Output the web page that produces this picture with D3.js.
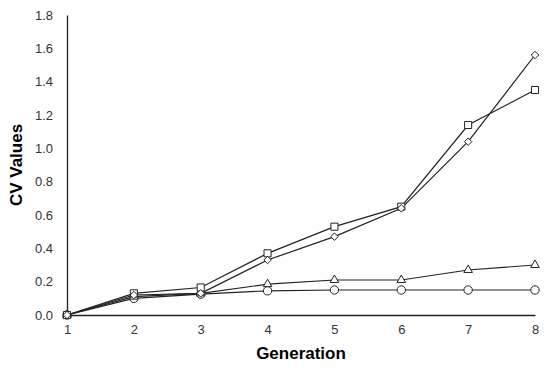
<!DOCTYPE html>
<html>
<head>
<meta charset="utf-8">
<script src="https://cdn.jsdelivr.net/npm/d3@7.9.0/dist/d3.min.js"></script>
<style>
  body { margin: 0; background: #fff; }
  svg { font-family: "Liberation Sans", Arial, sans-serif; }
</style>
</head>
<body>
<svg width="550" height="368"></svg>
<script>
// chart data
const generations = [1, 2, 3, 4, 5, 6, 7, 8];
const diamondValues = [0, 0.12, 0.13, 0.33, 0.47, 0.64, 1.04, 1.56];
const squareValues = [0, 0.13, 0.165, 0.37, 0.53, 0.65, 1.14, 1.35];
const triangleValues = [0, 0.11, 0.13, 0.185, 0.21, 0.21, 0.27, 0.30];
const circleValues = [0, 0.10, 0.125, 0.145, 0.15, 0.15, 0.15, 0.15];
const yTicks = [0, 0.2, 0.4, 0.6, 0.8, 1.0, 1.2, 1.4, 1.6, 1.8];

// squat diamond (square turned 45 degrees)
const symbolRhomb = {
  draw(ctx, size) {
    const r = Math.sqrt(size / 2);
    ctx.moveTo(0, -r);
    ctx.lineTo(r, 0);
    ctx.lineTo(0, r);
    ctx.lineTo(-r, 0);
    ctx.closePath();
  }
};

const series = [
  { name: 'circle', values: circleValues, symbol: d3.symbolCircle, size: 55 },
  { name: 'triangle', values: triangleValues, symbol: d3.symbolTriangle, size: 32 },
  { name: 'square', values: squareValues, symbol: d3.symbolSquare, size: 50 },
  { name: 'diamond', values: diamondValues, symbol: symbolRhomb, size: 28 },
];

const svg = d3.select('svg');
const x = d3.scaleLinear().domain([1, 8]).range([67, 535]);
const y = d3.scaleLinear().domain([0, 1.8]).range([315, 15]);

// axes
const xAxis = svg.append('g')
  .attr('transform', `translate(0,${y(0)})`)
  .call(d3.axisBottom(x).tickValues(generations).tickSize(0).tickPadding(10).tickFormat(d3.format('d')));
const yAxis = svg.append('g')
  .attr('transform', `translate(${x(1)},0)`)
  .call(d3.axisLeft(y).tickValues(yTicks).tickSize(0).tickPadding(14).tickFormat(d3.format('.1f')));

[xAxis, yAxis].forEach(g => {
  g.select('.domain').attr('stroke', '#222').attr('stroke-width', 1.3);
  g.selectAll('text').attr('font-size', 13).attr('fill', '#333').attr('font-family', '"Liberation Sans", Arial, sans-serif');
});

svg.append('text')
  .attr('x', x(4.5)).attr('y', 359)
  .attr('text-anchor', 'middle')
  .attr('font-size', 17).attr('font-weight', 'bold')
  .text('Generation');

svg.append('text')
  .attr('transform', `translate(22,${y(0.9)}) rotate(-90)`)
  .attr('text-anchor', 'middle')
  .attr('font-size', 17).attr('font-weight', 'bold')
  .text('CV Values');

const line = d3.line()
  .x((d, i) => x(generations[i]))
  .y(d => y(d));

series.forEach(s => {
  svg.append('path')
    .datum(s.values)
    .attr('d', line)
    .attr('fill', 'none')
    .attr('stroke', '#222')
    .attr('stroke-width', 1.2);
});

series.forEach(s => {
  svg.append('g').selectAll('path')
    .data(s.values)
    .join('path')
    .attr('transform', (d, i) => `translate(${x(generations[i])},${y(d)})`)
    .attr('d', d3.symbol().type(s.symbol).size(s.size))
    .attr('fill', '#fff')
    .attr('stroke', '#222')
    .attr('stroke-width', 1);
});
</script>
</body>
</html>
